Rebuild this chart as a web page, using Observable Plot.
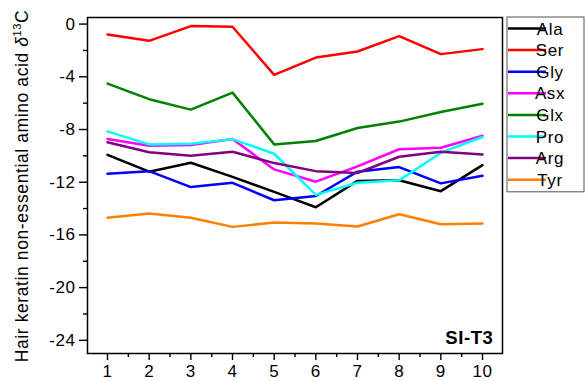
<!DOCTYPE html>
<html>
<head>
<meta charset="utf-8">
<script src="https://cdn.jsdelivr.net/npm/d3@7"></script>
<script src="https://cdn.jsdelivr.net/npm/@observablehq/plot@0.6"></script>
<style>
  html, body { margin: 0; padding: 0; background: #fff; }
  #chart svg { font-family: "Liberation Sans", Arial, sans-serif; overflow: visible; }
  #chart svg text { letter-spacing: 0.6px; }
</style>
</head>
<body>
<div id="chart"></div>
<script>
// Sampling segments along the hair strand
const steps = [1, 2, 3, 4, 5, 6, 7, 8, 9, 10];

// Amino acids and their line colours
const series = ["Ala", "Ser", "Gly", "Asx", "Glx", "Pro", "Arg", "Tyr"];
const colors = ["#000000", "#ff0000", "#0000ff", "#ff00ff", "#008000", "#00ffff", "#800080", "#ff8000"];

// δ13C values (‰) per segment
const ala = [-9.92, -11.2, -10.52, -11.6, -12.73, -13.9, -11.9, -11.85, -12.68, -10.7];
const ser = [-0.79, -1.27, -0.15, -0.2, -3.85, -2.54, -2.08, -0.91, -2.28, -1.9];
const gly = [-11.36, -11.16, -12.37, -12.05, -13.37, -13.05, -11.2, -10.85, -12.09, -11.51];
const asx = [-8.72, -9.23, -9.18, -8.72, -11.03, -11.96, -10.8, -9.5, -9.38, -8.47];
const glx = [-4.52, -5.7, -6.49, -5.2, -9.13, -8.87, -7.89, -7.4, -6.67, -6.04];
const pro = [-8.14, -9.13, -9.08, -8.73, -9.84, -12.96, -12.04, -11.86, -9.76, -8.57];
const arg = [-8.97, -9.73, -10.0, -9.69, -10.55, -11.16, -11.3, -10.07, -9.69, -9.89];
const tyr = [-14.7, -14.37, -14.7, -15.39, -15.06, -15.13, -15.36, -14.43, -15.19, -15.13];

// Axis ticks
const xTicks = steps;
const xMinorTicks = [1.5, 2.5, 3.5, 4.5, 5.5, 6.5, 7.5, 8.5, 9.5];
const yTicks = [0, -4, -8, -12, -16, -20, -24];
const yMinorTicks = [-2, -6, -10, -14, -18, -22];

const panelLabel = "SI-T3";

const valuesBySeries = [ala, ser, gly, asx, glx, pro, arg, tyr];
const rows = series.flatMap((name, i) =>
  steps.map((s, j) => ({series: name, step: s, value: valuesBySeries[i][j]}))
);

const W = 585, H = 381;
const margin = {left: 87, right: 83, top: 17, bottom: 28};

const chart = Plot.plot({
  width: W,
  height: H,
  marginLeft: margin.left,
  marginRight: margin.right,
  marginTop: margin.top,
  marginBottom: margin.bottom,
  style: {fontSize: "17px", fontFamily: "Liberation Sans, Arial, sans-serif", color: "#000"},
  x: {domain: [0.52, 10.48]},
  y: {domain: [-25, 0.5]},
  color: {domain: series, range: colors},
  marks: [
    Plot.axisX({ticks: xTicks, tickSize: 7, tickPadding: 4, label: null, tickFormat: d => String(d), fontSize: 17, strokeWidth: 1.4}),
    Plot.axisX({ticks: xMinorTicks, tickSize: 4, text: null, label: null, strokeWidth: 1.4}),
    Plot.axisY({ticks: yTicks, tickSize: 8, tickPadding: 4, label: null, tickFormat: d => d === 0 ? "0" : "-" + Math.abs(d), fontSize: 17, strokeWidth: 1.4}),
    Plot.axisY({ticks: yMinorTicks, tickSize: 4, text: null, label: null, strokeWidth: 1.4}),
    Plot.line(rows, {x: "step", y: "value", z: "series", stroke: "series", strokeWidth: 2.5}),
    Plot.frame({stroke: "#000", strokeWidth: 1.5}),
    Plot.text([panelLabel], {frameAnchor: "bottom-right", dx: -9, dy: -10, text: d => d, fontSize: 18.5, fontWeight: "bold", fill: "#000"})
  ]
});

document.getElementById("chart").appendChild(chart);

const svg = d3.select(chart);

// Rotated y-axis title with superscript isotope number
const yTitle = svg.append("text")
  .attr("transform", `translate(28, ${(margin.top + H - margin.bottom) / 2 + 1}) rotate(-90)`)
  .attr("text-anchor", "middle")
  .attr("font-size", 17.5)
  .attr("fill", "#000");
yTitle.append("tspan").text("Hair keratin non-essential amino acid ");
yTitle.append("tspan").attr("font-style", "italic").text("δ");
yTitle.append("tspan").attr("font-size", 11).attr("dy", -7).text("13");
yTitle.append("tspan").attr("dy", 7).text("C");

// Legend box to the right of the plot
const legendX = 507, legendY = 17, legendW = 77, rowH = 21.6;
const legend = svg.append("g");
legend.append("rect")
  .attr("x", legendX).attr("y", legendY)
  .attr("width", legendW).attr("height", rowH * series.length + 2)
  .attr("fill", "none").attr("stroke", "#555").attr("stroke-width", 1);
series.forEach((name, i) => {
  const cy = legendY + 11.5 + i * rowH;
  legend.append("line")
    .attr("x1", legendX + 1).attr("x2", legendX + 39)
    .attr("y1", cy).attr("y2", cy)
    .attr("stroke", colors[i]).attr("stroke-width", 2.5);
  legend.append("text")
    .attr("x", legendX + 43).attr("y", cy)
    .attr("dy", "0.36em")
    .attr("font-size", 17)
    .attr("fill", "#000")
    .text(name);
});
</script>
</body>
</html>
